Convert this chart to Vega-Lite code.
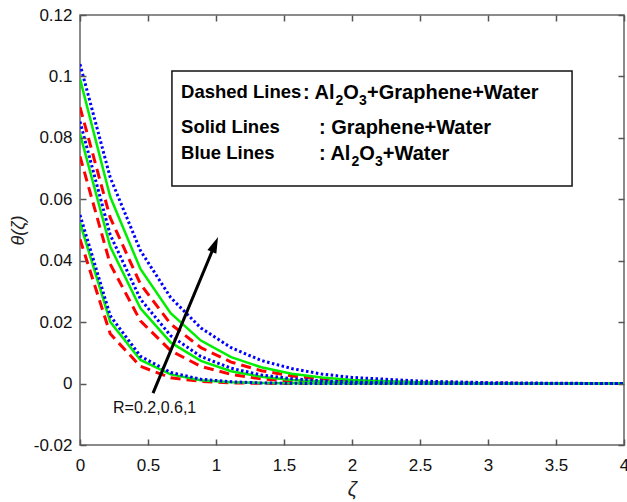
{
  "$schema": "https://vega.github.io/schema/vega-lite/v6.json",
  "width": 544,
  "height": 430,
  "autosize": {"type": "none"},
  "padding": {"left": 80, "top": 15, "right": 3, "bottom": 57},
  "background": "white",
  "config": {
    "view": {"stroke": "#666", "strokeWidth": 1.5},
    "font": "Liberation Sans"
  },
  "datasets": {
    "curves": [
      {"z": 0, "b1": 0.1040, "g1": 0.0992, "r1": 0.0900, "b06": 0.0853, "g06": 0.0813, "r06": 0.0740, "b02": 0.0549, "g02": 0.0523, "r02": 0.0470},
      {"z": 0.2222, "b1": 0.0671, "g1": 0.0608, "r1": 0.0540, "b06": 0.0484, "g06": 0.0446, "r06": 0.0389, "b02": 0.0221, "g02": 0.0201, "r02": 0.0162},
      {"z": 0.4444, "b1": 0.0433, "g1": 0.0373, "r1": 0.0324, "b06": 0.0275, "g06": 0.0245, "r06": 0.0204, "b02": 0.0089, "g02": 0.0077, "r02": 0.0056},
      {"z": 0.6667, "b1": 0.0280, "g1": 0.0229, "r1": 0.0194, "b06": 0.0156, "g06": 0.0134, "r06": 0.0107, "b02": 0.0036, "g02": 0.0030, "r02": 0.0019},
      {"z": 0.8889, "b1": 0.0181, "g1": 0.0140, "r1": 0.0117, "b06": 0.0088, "g06": 0.0074, "r06": 0.0056, "b02": 0.0014, "g02": 0.0011, "r02": 0.0007},
      {"z": 1.1111, "b1": 0.0117, "g1": 0.0086, "r1": 0.0070, "b06": 0.0050, "g06": 0.0040, "r06": 0.0030, "b02": 0.0006, "g02": 0.0004, "r02": 0.0002},
      {"z": 1.3333, "b1": 0.0075, "g1": 0.0053, "r1": 0.0042, "b06": 0.0028, "g06": 0.0022, "r06": 0.0015, "b02": 0.0002, "g02": 0.0002, "r02": 0.0001},
      {"z": 1.5556, "b1": 0.0049, "g1": 0.0032, "r1": 0.0025, "b06": 0.0016, "g06": 0.0012, "r06": 0.0008, "b02": 0.0001, "g02": 0.0001, "r02": 0},
      {"z": 1.7778, "b1": 0.0031, "g1": 0.0020, "r1": 0.0015, "b06": 0.0009, "g06": 0.0007, "r06": 0.0004, "b02": 0, "g02": 0, "r02": 0},
      {"z": 2.0, "b1": 0.0020, "g1": 0.0012, "r1": 0.0009, "b06": 0.0005, "g06": 0.0004, "r06": 0.0002, "b02": 0, "g02": 0, "r02": 0},
      {"z": 2.5, "b1": 0.0008, "g1": 0.0004, "r1": 0.0003, "b06": 0.0001, "g06": 0.0001, "r06": 0, "b02": 0, "g02": 0, "r02": 0},
      {"z": 3.0, "b1": 0.0003, "g1": 0.0001, "r1": 0.0001, "b06": 0, "g06": 0, "r06": 0, "b02": 0, "g02": 0, "r02": 0},
      {"z": 3.5, "b1": 0.0001, "g1": 0, "r1": 0, "b06": 0, "g06": 0, "r06": 0, "b02": 0, "g02": 0, "r02": 0},
      {"z": 4.0, "b1": 0, "g1": 0, "r1": 0, "b06": 0, "g06": 0, "r06": 0, "b02": 0, "g02": 0, "r02": 0}
    ]
  },
  "resolve": {"axis": {"x": "independent", "y": "independent"}},
  "layer": [
    {
      "data": {"name": "curves"},
      "transform": [{"fold": ["r1", "r06", "r02"], "as": ["curve", "theta"]}],
      "mark": {"type": "line", "color": "#FF0000", "strokeWidth": 3, "strokeDash": [10, 6], "clip": true},
      "encoding": {
        "x": {"field": "z", "type": "quantitative", "scale": {"domain": [0, 4], "nice": false, "zero": false},
          "axis": {"orient": "bottom", "values": [0, 0.5, 1, 1.5, 2, 2.5, 3, 3.5, 4], "format": "~g", "title": "ζ",
            "titleFontSize": 20, "titleFontStyle": "italic", "titleFontWeight": "normal", "titleColor": "#222", "titlePadding": 6,
            "labelFontSize": 17, "labelColor": "#111", "labelPadding": 12, "labelFlush": false, "labelOverlap": false,
            "domain": false, "grid": false, "ticks": true, "zindex": 2, "offset": -6, "tickSize": 6, "tickColor": "#555", "tickWidth": 1.5}},
        "y": {"field": "theta", "type": "quantitative", "scale": {"domain": [-0.02, 0.12], "nice": false, "zero": false},
          "axis": {"orient": "left", "values": [-0.02, 0, 0.02, 0.04, 0.06, 0.08, 0.1, 0.12],
            "labelExpr": "replace(format(datum.value, '.2~f'), '\u2212', '-')", "title": "θ(ζ)",
            "titleFontSize": 18, "titleFontStyle": "italic", "titleFontWeight": "normal", "titleColor": "#222", "titlePadding": 6,
            "labelFontSize": 17, "labelColor": "#111", "labelPadding": 8, "labelFlush": false, "labelOverlap": false,
            "domain": false, "grid": false, "ticks": true, "zindex": 2, "offset": -6, "tickSize": 6, "tickColor": "#555", "tickWidth": 1.5}},
        "detail": {"field": "curve"}
      }
    },
    {
      "data": {"name": "curves"},
      "transform": [{"fold": ["g1", "g06", "g02"], "as": ["curve", "theta"]}],
      "mark": {"type": "line", "color": "#00EE00", "strokeWidth": 2.5, "clip": true},
      "encoding": {
        "x": {"field": "z", "type": "quantitative",
          "axis": {"orient": "top", "values": [0, 0.5, 1, 1.5, 2, 2.5, 3, 3.5, 4], "labels": false, "title": null,
            "domain": false, "grid": false, "ticks": true, "zindex": 2, "offset": -6, "tickSize": 6, "tickColor": "#555", "tickWidth": 1.5}},
        "y": {"field": "theta", "type": "quantitative",
          "axis": {"orient": "right", "values": [-0.02, 0, 0.02, 0.04, 0.06, 0.08, 0.1, 0.12], "labels": false, "title": null,
            "domain": false, "grid": false, "ticks": true, "zindex": 2, "offset": -6, "tickSize": 6, "tickColor": "#555", "tickWidth": 1.5}},
        "detail": {"field": "curve"}
      }
    },
    {
      "data": {"name": "curves"},
      "transform": [{"fold": ["b1", "b06", "b02"], "as": ["curve", "theta"]}],
      "mark": {"type": "line", "color": "#0000FF", "strokeWidth": 3, "strokeDash": [2.5, 2.5], "clip": true},
      "encoding": {
        "x": {"field": "z", "type": "quantitative", "axis": null},
        "y": {"field": "theta", "type": "quantitative", "axis": null},
        "detail": {"field": "curve"}
      }
    },
    {
      "data": {"values": [{"z1": 0.676, "z2": 3.618, "t1": 0.1018, "t2": 0.0643}]},
      "mark": {"type": "rect", "fill": "white", "stroke": "#111", "strokeWidth": 1.5},
      "encoding": {
        "x": {"field": "z1", "type": "quantitative", "axis": null},
        "x2": {"field": "z2"},
        "y": {"field": "t1", "type": "quantitative", "axis": null},
        "y2": {"field": "t2"}
      }
    },
    {
      "data": {"values": [
        {"z": 0.743, "t": 0.0949, "label": "Dashed Lines"},
        {"z": 0.743, "t": 0.0836, "label": "Solid Lines"},
        {"z": 0.743, "t": 0.0751, "label": "Blue Lines"}
      ]},
      "mark": {"type": "text", "align": "left", "baseline": "middle", "font": "Liberation Sans", "fontWeight": "bold", "fontSize": 18.5, "color": "#000"},
      "encoding": {
        "x": {"field": "z", "type": "quantitative", "axis": null},
        "y": {"field": "t", "type": "quantitative", "axis": null},
        "text": {"field": "label"}
      }
    },
    {
      "data": {"values": [
        {"z": 1.64, "t": 0.0927, "label": ": Al"},
        {"z": 1.936, "t": 0.0927, "label": "O"},
        {"z": 2.111, "t": 0.0927, "label": "+Graphene+Water"},
        {"z": 1.757, "t": 0.0813, "label": ": Graphene+Water"},
        {"z": 1.757, "t": 0.0728, "label": ": Al"},
        {"z": 2.053, "t": 0.0728, "label": "O"},
        {"z": 2.227, "t": 0.0728, "label": "+Water"}
      ]},
      "mark": {"type": "text", "align": "left", "baseline": "alphabetic", "font": "Liberation Sans", "fontWeight": "bold", "fontSize": 20, "color": "#000"},
      "encoding": {
        "x": {"field": "z", "type": "quantitative", "axis": null},
        "y": {"field": "t", "type": "quantitative", "axis": null},
        "text": {"field": "label"}
      }
    },
    {
      "data": {"values": [
        {"z": 1.879, "t": 0.0907, "label": "2"},
        {"z": 2.052, "t": 0.0907, "label": "3"},
        {"z": 1.996, "t": 0.0708, "label": "2"},
        {"z": 2.169, "t": 0.0708, "label": "3"}
      ]},
      "mark": {"type": "text", "align": "left", "baseline": "alphabetic", "font": "Liberation Sans", "fontWeight": "bold", "fontSize": 14, "color": "#000"},
      "encoding": {
        "x": {"field": "z", "type": "quantitative", "axis": null},
        "y": {"field": "t", "type": "quantitative", "axis": null},
        "text": {"field": "label"}
      }
    },
    {
      "data": {"values": [{"z1": 0.537, "t1": -0.0031, "z2": 0.992, "t2": 0.0453}]},
      "mark": {"type": "rule", "color": "#000", "strokeWidth": 3},
      "encoding": {
        "x": {"field": "z1", "type": "quantitative", "axis": null},
        "y": {"field": "t1", "type": "quantitative", "axis": null},
        "x2": {"field": "z2"},
        "y2": {"field": "t2"}
      }
    },
    {
      "data": {"values": [{"z": 1.015, "t": 0.0477}]},
      "mark": {"type": "point", "shape": "M0,0L-0.6,2L0.6,2Z", "size": 256, "angle": 22.6, "filled": true, "color": "#000", "opacity": 1, "strokeWidth": 0},
      "encoding": {
        "x": {"field": "z", "type": "quantitative", "axis": null},
        "y": {"field": "t", "type": "quantitative", "axis": null}
      }
    },
    {
      "data": {"values": [{"z": 0.243, "t": -0.0080, "label": "R=0.2,0.6,1"}]},
      "mark": {"type": "text", "align": "left", "baseline": "middle", "font": "Liberation Sans", "fontSize": 16, "color": "#111"},
      "encoding": {
        "x": {"field": "z", "type": "quantitative", "axis": null},
        "y": {"field": "t", "type": "quantitative", "axis": null},
        "text": {"field": "label"}
      }
    }
  ]
}
